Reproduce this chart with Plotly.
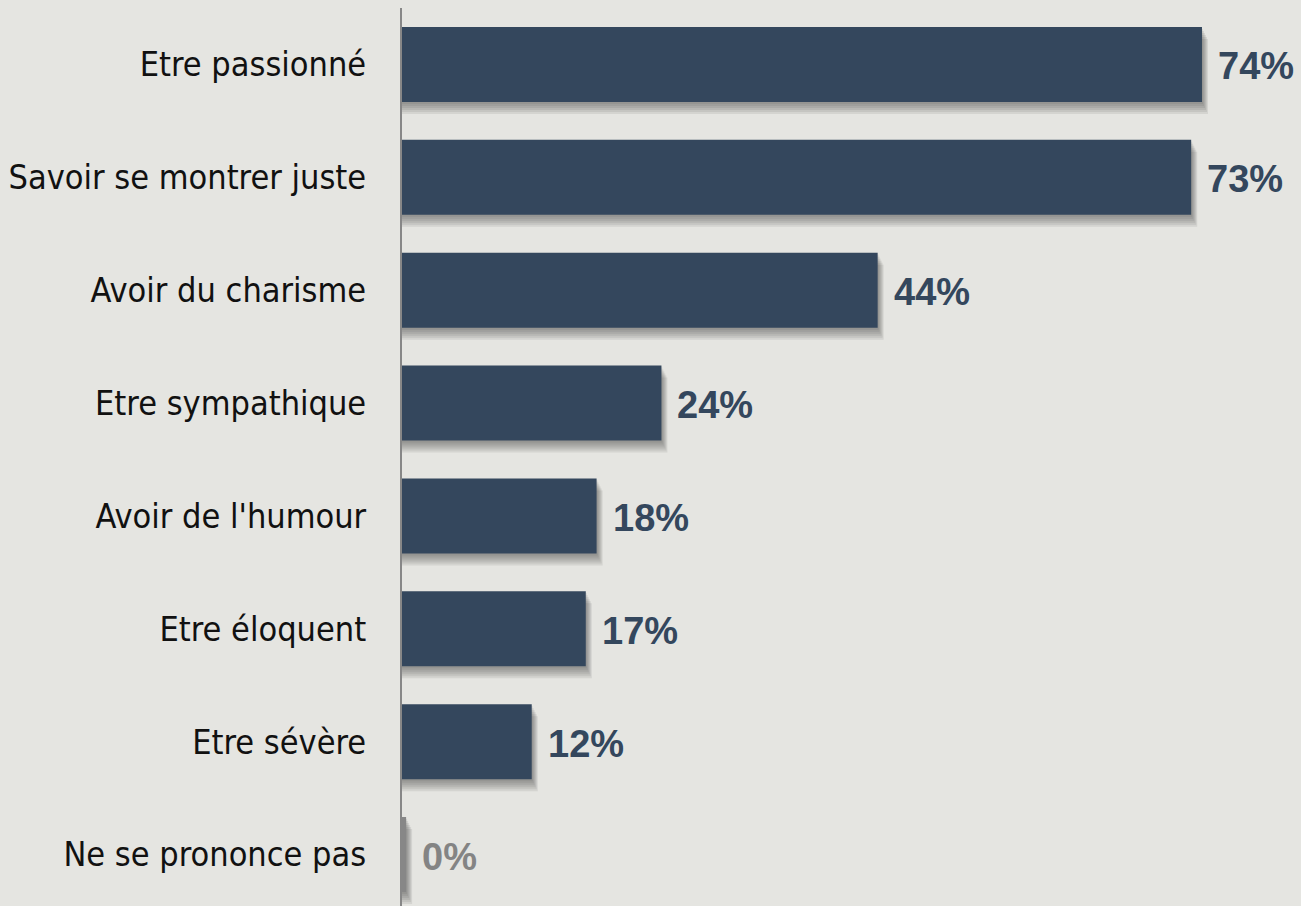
import plotly.graph_objects as go

categories = ["Etre passionné", "Savoir se montrer juste", "Avoir du charisme",
              "Etre sympathique", "Avoir de l'humour", "Etre éloquent",
              "Etre sévère", "Ne se prononce pas"]
values = [74, 73, 44, 24, 18, 17, 12, 0]
value_labels = ["74%", "73%", "44%", "24%", "18%", "17%", "12%", "0%"]

BG = "#e5e5e1"
BAR = "#34475d"
GRAY = "#878787"

colors = [BAR if v > 0 else GRAY for v in values]
label_colors = [BAR if v > 0 else "#848484" for v in values]
# tiny visible stub for zero values
draw_vals = [v if v > 0 else 0.38 for v in values]

BW = 0.665
PX = 1 / 112.86  # one pixel in category units

fig = go.Figure()

# soft drop shadow layers
for dy in [2, 4, 6, 8, 10, 12]:
    fig.add_trace(go.Bar(
        y=categories, x=[d + (dy / 2) * 0.0925 for d in draw_vals], orientation="h",
        width=BW, offset=-BW / 2 + dy * PX,
        marker=dict(color="rgba(50,50,50,0.095)", line=dict(width=0)),
        hoverinfo="skip", showlegend=False,
    ))

fig.add_trace(go.Bar(
    y=categories, x=draw_vals, orientation="h", width=BW, offset=-BW / 2,
    marker=dict(color=colors, line=dict(width=0)),
    showlegend=False,
))

for c, v, t, col in zip(categories, draw_vals, value_labels, label_colors):
    fig.add_annotation(x=v, y=c, text=t, showarrow=False, xanchor="left",
                       yanchor="middle", xshift=14, yshift=-2,
                       font=dict(family="Liberation Sans", size=38, color=col, weight="bold"))

fig.update_layout(
    width=1301, height=906,
    margin=dict(l=402, r=0, t=8, b=0),
    paper_bgcolor=BG, plot_bgcolor=BG,
    barmode="overlay", bargap=0.335,
    xaxis=dict(range=[0, 83.16], visible=False, showgrid=False, zeroline=False),
    yaxis=dict(type="category", categoryorder="array", categoryarray=categories,
               range=[7.456, -0.5], showline=True, linecolor=GRAY, linewidth=2,
               showgrid=False, zeroline=False, ticks="outside", ticklen=27,
               tickcolor="rgba(0,0,0,0)",
               tickfont=dict(family="DejaVu Sans Condensed", size=34, color="#111111")),
)

fig.write_html("out.html", config={"displayModeBar": False})
with open("out.html", encoding="utf-8") as f:
    html = f.read()
html = html.replace("<body>", '<body style="margin:0;padding:0;overflow:hidden">', 1)
with open("out.html", "w", encoding="utf-8") as f:
    f.write(html)
